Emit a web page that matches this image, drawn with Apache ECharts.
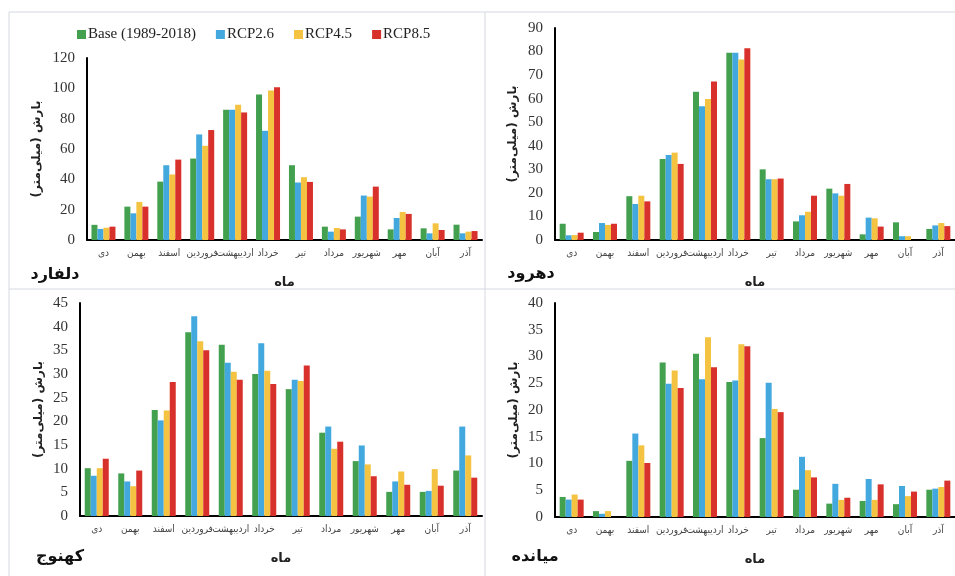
<!DOCTYPE html>
<html><head><meta charset="utf-8">
<script src="https://cdn.jsdelivr.net/npm/echarts@6/dist/echarts.min.js"></script>
<style>html,body{margin:0;padding:0;background:#fff}#c{width:955px;height:576px}</style>
</head><body><div id="c"></div>
<script>
const months = ['دی','بهمن','اسفند','فروردین','اردیبهشت','خرداد','تیر','مرداد','شهریور','مهر','آبان','آذر'];
const seriesNames = ['Base (1989-2018)','RCP2.6','RCP4.5','RCP8.5'];
const stationNames = ['دلفارد','دهرود','کهنوج','میانده'];
const yAxisTitle = 'بارش (میلی‌متر)';
const xAxisTitle = 'ماه';

// دلفارد
const dolfardBase  = [10, 22, 38.5, 53.7, 85.9, 96, 49.3, 8.8, 15.4, 7, 7.7, 10.1];
const dolfardRcp26 = [7.3, 17.6, 49.3, 69.6, 85.9, 72, 37.9, 5.5, 29.3, 14.5, 4.4, 4.4];
const dolfardRcp45 = [8.1, 25.1, 43.2, 62.1, 89.2, 98.5, 41.4, 7.9, 28.6, 18.5, 11, 5.5];
const dolfardRcp85 = [8.8, 22, 53, 72.5, 84.1, 100.7, 38.3, 7, 35.2, 17.2, 6.6, 5.9];
// دهرود
const dehrudBase  = [6.9, 3.4, 18.6, 34.4, 62.9, 79.5, 30, 7.9, 21.8, 2.4, 7.5, 4.7];
const dehrudRcp26 = [2, 7.2, 15.3, 36.1, 56.8, 79.5, 25.8, 10.5, 19.8, 9.5, 1.6, 6.2];
const dehrudRcp45 = [2.1, 6.4, 18.8, 37.1, 59.9, 76.6, 25.8, 12, 18.8, 9.2, 1.6, 7.2];
const dehrudRcp85 = [3.1, 6.9, 16.4, 32.3, 67.3, 81.4, 26.1, 18.8, 23.8, 5.7, 0, 5.9];
// کهنوج
const kahnujBase  = [10.1, 9, 22.4, 38.8, 36.2, 30, 26.8, 17.6, 11.6, 5.1, 5.1, 9.6];
const kahnujRcp26 = [8.5, 7.3, 20.2, 42.2, 32.4, 36.5, 28.8, 18.9, 14.9, 7.3, 5.3, 18.9];
const kahnujRcp45 = [10.1, 6.3, 22.3, 36.9, 30.5, 30.7, 28.5, 14.2, 10.9, 9.4, 9.9, 12.8];
const kahnujRcp85 = [12.1, 9.6, 28.3, 35, 28.8, 27.9, 31.8, 15.7, 8.4, 6.6, 6.4, 8.1];
// میانده
const miyanehBase  = [3.75, 1.1, 10.5, 28.9, 30.5, 25.25, 14.75, 5.1, 2.5, 3, 2.4, 5.1];
const miyanehRcp26 = [3.25, 0.6, 15.6, 24.9, 25.75, 25.5, 25.1, 11.25, 6.2, 7.1, 5.8, 5.3];
const miyanehRcp45 = [4.2, 1.1, 13.4, 27.4, 33.6, 32.3, 20.2, 8.75, 3.2, 3.2, 3.9, 5.6];
const miyanehRcp85 = [3.25, 0, 10.1, 24.1, 28, 31.9, 19.6, 7.4, 3.6, 6.1, 4.75, 6.8];

const yMax = [120, 90, 45, 40];
const yStep = [20, 10, 5, 5];

const stationData = [
  [dolfardBase, dolfardRcp26, dolfardRcp45, dolfardRcp85],
  [dehrudBase, dehrudRcp26, dehrudRcp45, dehrudRcp85],
  [kahnujBase, kahnujRcp26, kahnujRcp45, kahnujRcp85],
  [miyanehBase, miyanehRcp26, miyanehRcp45, miyanehRcp85]
];

const colors = ['#43a04f', '#42a8de', '#f3c341', '#d8302a'];
const grids = [
  {left: 87, top: 58, width: 395, height: 182},
  {left: 555, top: 28, width: 402, height: 212},
  {left: 80, top: 303, width: 402, height: 213},
  {left: 555, top: 303, width: 402, height: 214}
];
const yNameGap = [44, 36, 35, 35];
const stationPos = [[55, 275], [531, 274], [60, 557], [535, 557]];

const serif = 'Liberation Serif, Times New Roman, serif';
const fa = 'DejaVu Sans, Noto Sans, sans-serif';
const faNarrow = 'DejaVu Sans Condensed, DejaVu Sans, sans-serif';

const xAxes = [], yAxes = [], series = [];
grids.forEach((g, i) => {
  xAxes.push({
    type: 'category', gridIndex: i, data: months,
    name: xAxisTitle, nameLocation: 'middle', nameGap: 36,
    nameTextStyle: {fontFamily: fa, fontSize: 13, fontWeight: 'bold', color: '#222'},
    axisLine: {lineStyle: {color: '#000', width: 2}},
    axisTick: {show: false},
    axisLabel: {interval: 0, fontFamily: faNarrow, fontSize: 10, color: '#444', margin: 8}
  });
  yAxes.push({
    type: 'value', gridIndex: i, min: 0, max: yMax[i], interval: yStep[i],
    name: yAxisTitle, nameLocation: 'middle', nameRotate: 90, nameGap: yNameGap[i],
    nameTextStyle: {fontFamily: fa, fontSize: 12, fontWeight: 'bold', color: '#222'},
    axisLine: {show: true, lineStyle: {color: '#000', width: 2}},
    axisTick: {show: false},
    splitLine: {show: false},
    axisLabel: {fontFamily: serif, fontSize: 15, color: '#333', margin: 12}
  });
  stationData[i].forEach((arr, k) => {
    series.push({
      type: 'bar', name: seriesNames[k], xAxisIndex: i, yAxisIndex: i,
      data: arr, barWidth: 6, barGap: '0%',
      itemStyle: {color: colors[k]}, silent: true, animation: false
    });
  });
});

const lineStyle = {stroke: '#d4d8e0', lineWidth: 1};
const graphic = [
  {type: 'line', shape: {x1: 9, y1: 12, x2: 955, y2: 12}, style: lineStyle},
  {type: 'line', shape: {x1: 9, y1: 12, x2: 9, y2: 576}, style: lineStyle},
  {type: 'line', shape: {x1: 485, y1: 12, x2: 485, y2: 576}, style: lineStyle},
  {type: 'line', shape: {x1: 9, y1: 289, x2: 955, y2: 289}, style: lineStyle}
];
stationNames.forEach((s, i) => {
  graphic.push({
    type: 'text', x: stationPos[i][0], y: stationPos[i][1],
    style: {text: s, font: 'bold 16px DejaVu Sans, sans-serif', fill: '#111', align: 'center', verticalAlign: 'middle'}
  });
});

const chart = echarts.init(document.getElementById('c'), null, {renderer: 'canvas'});
chart.setOption({
  animation: false,
  color: colors,
  legend: {
    data: seriesNames, left: 77, top: 27, padding: 0, icon: 'rect', itemWidth: 9, itemHeight: 9, itemGap: 20,
    textStyle: {fontFamily: serif, fontSize: 15, color: '#222', padding: [0, 0, 0, -3]}
  },
  grid: grids,
  xAxis: xAxes,
  yAxis: yAxes,
  series: series,
  graphic: graphic
});
</script></body></html>
